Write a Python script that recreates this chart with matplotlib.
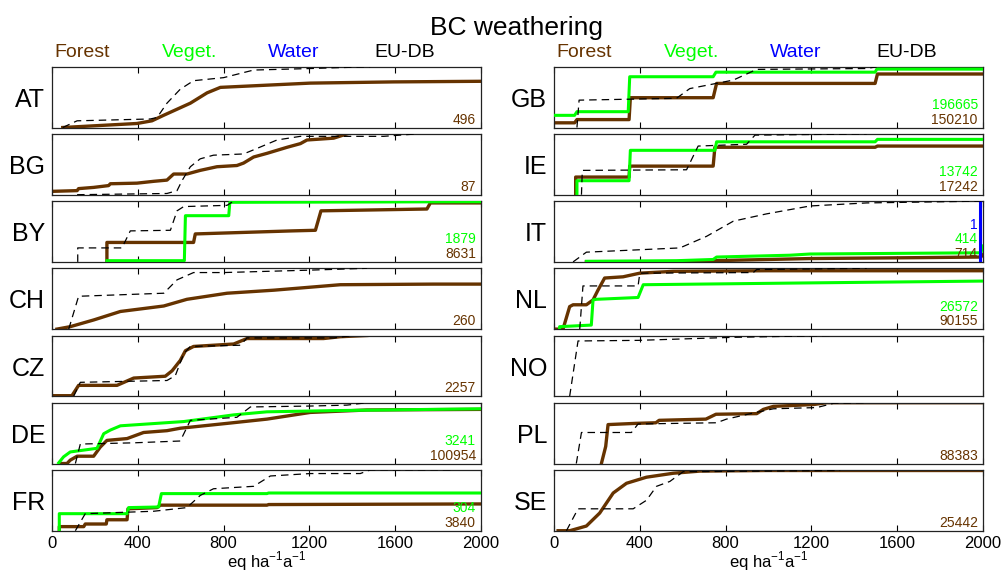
import matplotlib.pyplot as plt

# cumulative fractions, x in eq/ha/a
AT_forest_x = [50, 396, 466, 520, 645, 723, 785, 1204, 1593, 2000]
AT_forest_y = [0, 0.066, 0.11, 0.20, 0.40, 0.57, 0.66, 0.73, 0.75, 0.76]
AT_eudb_x = [50, 117, 458, 490, 536, 598, 660, 800, 940, 1204, 1484]
AT_eudb_y = [0, 0.11, 0.14, 0.165, 0.40, 0.63, 0.77, 0.82, 0.945, 0.97, 1.0]

BG_forest_x = [0, 117, 124, 194, 264, 272, 396, 474, 536, 567, 629, 691, 769, 862, 893, 940, 1002, 1096, 1158, 1189, 1313, 1375]
BG_forest_y = [0.055, 0.067, 0.10, 0.12, 0.15, 0.18, 0.19, 0.22, 0.24, 0.34, 0.34, 0.40, 0.46, 0.48, 0.52, 0.62, 0.68, 0.78, 0.84, 0.90, 0.93, 1.0]
BG_eudb_x = [117, 536, 583, 606, 645, 691, 753, 893, 955, 1049, 1158, 1546, 1701]
BG_eudb_y = [0, 0.02, 0.067, 0.23, 0.46, 0.59, 0.65, 0.67, 0.76, 0.90, 0.96, 0.96, 1.0]

BY_forest_x = [256, 256, 660, 668, 1119, 1228, 1254, 1748, 1764, 2000]
BY_forest_y = [0, 0.32, 0.32, 0.46, 0.51, 0.52, 0.84, 0.87, 0.97, 0.97]
BY_veget_x = [256, 617, 622, 824, 829, 2000]
BY_veget_y = [0.02, 0.02, 0.76, 0.76, 0.98, 0.99]
BY_eudb_x = [120, 120, 326, 365, 552, 583, 614, 816, 847]
BY_eudb_y = [0, 0.23, 0.23, 0.51, 0.52, 0.84, 0.91, 0.93, 1.0]

CH_forest_x = [23, 85, 194, 319, 521, 629, 816, 1034, 1344, 1779, 2000]
CH_forest_y = [0, 0.04, 0.15, 0.29, 0.38, 0.49, 0.59, 0.64, 0.73, 0.74, 0.74]
CH_eudb_x = [78, 124, 521, 583, 660, 800, 1204, 1468]
CH_eudb_y = [0, 0.54, 0.59, 0.81, 0.93, 0.93, 0.97, 1.0]

CZ_forest_x = [0, 93, 124, 303, 381, 528, 560, 598, 622, 660, 847, 909, 1266, 1344, 1468]
CZ_forest_y = [0.01, 0.01, 0.18, 0.18, 0.30, 0.33, 0.42, 0.59, 0.75, 0.82, 0.86, 0.95, 0.95, 0.98, 1.0]
CZ_eudb_x = [101, 132, 536, 575, 614, 645, 878, 909, 1313, 1406]
CZ_eudb_y = [0, 0.23, 0.26, 0.34, 0.70, 0.82, 0.84, 0.96, 0.96, 1.0]

DE_forest_x = [39, 70, 85, 117, 194, 225, 256, 350, 427, 536, 598, 816, 1002, 1204, 1468, 2000]
DE_forest_y = [0, 0, 0.055, 0.12, 0.12, 0.27, 0.38, 0.41, 0.51, 0.54, 0.58, 0.66, 0.73, 0.84, 0.88, 0.89]
DE_veget_x = [31, 54, 85, 210, 241, 272, 319, 614, 847, 1002, 1313, 2000]
DE_veget_y = [0.01, 0.11, 0.19, 0.25, 0.49, 0.55, 0.62, 0.69, 0.80, 0.85, 0.87, 0.90]
DE_eudb_x = [109, 132, 381, 598, 645, 862, 925, 1204, 1375, 1468]
DE_eudb_y = [0, 0.32, 0.34, 0.37, 0.71, 0.76, 0.93, 0.945, 0.96, 1.0]

FR_forest_x = [34, 34, 148, 155, 253, 256, 350, 354, 490, 505, 1002, 1010, 2000]
FR_forest_y = [0, 0.067, 0.067, 0.11, 0.11, 0.18, 0.18, 0.36, 0.38, 0.42, 0.42, 0.43, 0.44]
FR_veget_x = [34, 34, 350, 357, 497, 510, 1002, 1010, 2000]
FR_veget_y = [0, 0.28, 0.28, 0.38, 0.39, 0.61, 0.61, 0.62, 0.62]
FR_eudb_x = [109, 155, 474, 629, 691, 753, 940, 1018, 1204, 1437, 1484, 1857]
FR_eudb_y = [0, 0.28, 0.32, 0.38, 0.58, 0.69, 0.73, 0.90, 0.94, 0.94, 1.0, 1.0]

GB_forest_x = [0, 96, 107, 350, 356, 742, 758, 1497, 1508, 2000]
GB_forest_y = [0.077, 0.077, 0.13, 0.13, 0.49, 0.49, 0.725, 0.725, 0.88, 0.88]
GB_veget_x = [0, 96, 107, 346, 353, 742, 755, 1497, 1505, 2000]
GB_veget_y = [0.20, 0.20, 0.26, 0.26, 0.835, 0.835, 0.91, 0.91, 0.96, 0.96]
GB_eudb_x = [107, 117, 571, 633, 836, 945, 1458, 1505]
GB_eudb_y = [0, 0.45, 0.48, 0.64, 0.78, 0.956, 0.97, 1.0]

IE_forest_x = [101, 101, 350, 353, 742, 750, 1497, 1508, 2000]
IE_forest_y = [0, 0.29, 0.29, 0.47, 0.47, 0.78, 0.78, 0.80, 0.80]
IE_veget_x = [107, 107, 350, 356, 750, 758, 1497, 1508, 2000]
IE_veget_y = [0, 0.23, 0.23, 0.73, 0.73, 0.87, 0.87, 0.91, 0.91]
IE_eudb_x = [128, 132, 618, 672, 898, 937, 1458]
IE_eudb_y = [0, 0.40, 0.41, 0.80, 0.83, 0.98, 1.0]

IT_forest_x = [151, 571, 742, 1194, 1700, 1990, 2000]
IT_forest_y = [0, 0.005, 0.02, 0.055, 0.07, 0.08, 0.12]
IT_veget_x = [151, 571, 742, 758, 1100, 1194, 1990, 2000]
IT_veget_y = [0.01, 0.02, 0.04, 0.08, 0.11, 0.13, 0.15, 0.26]
IT_water_x = [1984, 1984]
IT_water_y = [0, 1.0]
IT_eudb_x = [89, 151, 213, 587, 711, 836, 991, 1194, 1458, 2000]
IT_eudb_y = [0, 0.16, 0.17, 0.23, 0.42, 0.67, 0.79, 0.92, 0.97, 1.0]

NL_forest_x = [11, 42, 73, 89, 151, 182, 205, 236, 322, 400, 556, 992, 2000]
NL_forest_y = [0, 0, 0.37, 0.40, 0.40, 0.48, 0.64, 0.84, 0.86, 0.92, 0.95, 0.96, 0.96]
NL_veget_x = [26, 26, 174, 182, 198, 392, 416, 1194, 2000]
NL_veget_y = [0.02, 0.04, 0.066, 0.48, 0.49, 0.52, 0.73, 0.76, 0.79]
NL_eudb_x = [120, 135, 392, 400, 929, 945, 1458]
NL_eudb_y = [0, 0.71, 0.71, 0.92, 0.93, 0.98, 1.0]

NO_eudb_x = [73, 112, 392, 836, 1303]
NO_eudb_y = [0, 0.91, 0.92, 0.97, 1.0]

PL_forest_x = [221, 241, 252, 381, 475, 490, 708, 755, 945, 976, 1023, 1210, 1272, 2000]
PL_forest_y = [0, 0.28, 0.64, 0.66, 0.67, 0.71, 0.73, 0.81, 0.82, 0.89, 0.94, 0.97, 1.0, 1.0]
PL_eudb_x = [104, 128, 361, 392, 758, 804, 929, 1023, 1225, 1303, 1458]
PL_eudb_y = [0, 0.51, 0.51, 0.65, 0.67, 0.73, 0.83, 0.90, 0.92, 0.99, 1.0]

SE_forest_x = [19, 74, 151, 213, 276, 338, 431, 556, 680, 991, 2000]
SE_forest_y = [0, 0, 0.077, 0.29, 0.62, 0.78, 0.88, 0.945, 0.98, 0.99, 0.99]
SE_eudb_x = [58, 112, 369, 431, 478, 540, 602, 1334]
SE_eudb_y = [0, 0.36, 0.36, 0.50, 0.73, 0.81, 0.97, 0.99]

# number of sites per class (water, veget., forest), None = not shown
counts = {
    'AT': (None, None, 496), 'BG': (None, None, 87), 'BY': (None, 1879, 8631),
    'CH': (None, None, 260), 'CZ': (None, None, 2257), 'DE': (None, 3241, 100954),
    'FR': (None, 304, 3840), 'GB': (None, 196665, 150210), 'IE': (None, 13742, 17242),
    'IT': (1, 414, 714), 'NL': (None, 26572, 90155), 'NO': (None, None, None),
    'PL': (None, None, 88383), 'SE': (None, None, 25442),
}
left_col = ['AT', 'BG', 'BY', 'CH', 'CZ', 'DE', 'FR']
right_col = ['GB', 'IE', 'IT', 'NL', 'NO', 'PL', 'SE']

brown = '#663300'
green = '#00ff00'
blue = '#0000ff'

plt.rcParams['font.family'] = ['Liberation Sans', 'DejaVu Sans']
plt.rcParams['mathtext.fontset'] = 'custom'
plt.rcParams['mathtext.rm'] = 'Liberation Sans'

W, H = 1007, 572
fig = plt.figure(figsize=(W / 100, H / 100), dpi=100)

data = globals()


def series(name, kind):
    kx = f'{name}_{kind}_x'
    if kx in data:
        return data[kx], data[f'{name}_{kind}_y']
    return None


for col, (names, x0) in enumerate([(left_col, 52), (right_col, 554)]):
    for i, name in enumerate(names):
        top = 66.7 + 67.2 * i
        ax = fig.add_axes([x0 / W, 1 - (top + 60.8) / H, 429 / W, 60.8 / H])

        s = series(name, 'forest')
        if s:
            ax.plot(s[0], s[1], color=brown, lw=2.4, zorder=2)
        s = series(name, 'veget')
        if s:
            ax.plot(s[0], s[1], color=green, lw=2.2, zorder=3)
        s = series(name, 'water')
        if s:
            ax.plot(s[0], s[1], color=blue, lw=2.2, zorder=4)
        s = series(name, 'eudb')
        if s:
            ax.plot(s[0], s[1], color='black', lw=0.9, dashes=(6, 4), zorder=5)

        ax.set_xlim(0, 2000)
        ax.set_ylim(0, 1)
        ax.set_yticks([])
        ax.set_xticks([0, 400, 800, 1200, 1600, 2000])
        ax.tick_params(axis='x', direction='in', top=True, length=4, labelsize=12, pad=4)
        for sp in ax.spines.values():
            sp.set_linewidth(0.9)
            sp.set_color('#222222')
        if i < len(names) - 1:
            ax.set_xticklabels([])
        else:
            ax.set_xlabel('eq ha$^{-1}$a$^{-1}$', fontsize=12, labelpad=-1)

        ax.text(-0.016, 0.34, name, transform=ax.transAxes, ha='right', va='baseline', fontsize=18)

        # site counts stacked from the bottom right corner
        row = 0
        for n, c in zip(counts[name][::-1], [brown, green, blue]):
            if n is None:
                continue
            ax.text(0.988, 0.065 + 0.24 * row, str(n), transform=ax.transAxes,
                    ha='right', va='baseline', fontsize=10, color=c, zorder=6)
            row += 1

        if i == 0:
            for lab, xf, c in [('Forest', 0.07, brown), ('Veget.', 0.32, green),
                               ('Water', 0.563, blue), ('EU-DB', 0.823, 'black')]:
                ax.text(xf, 1 + 10 / 60.8, lab, transform=ax.transAxes, ha='center',
                        va='baseline', fontsize=14, color=c)

fig.text(516 / W, 1 - 35 / H, 'BC weathering', ha='center', va='baseline', fontsize=19)

fig.savefig('out.png', dpi=100)
